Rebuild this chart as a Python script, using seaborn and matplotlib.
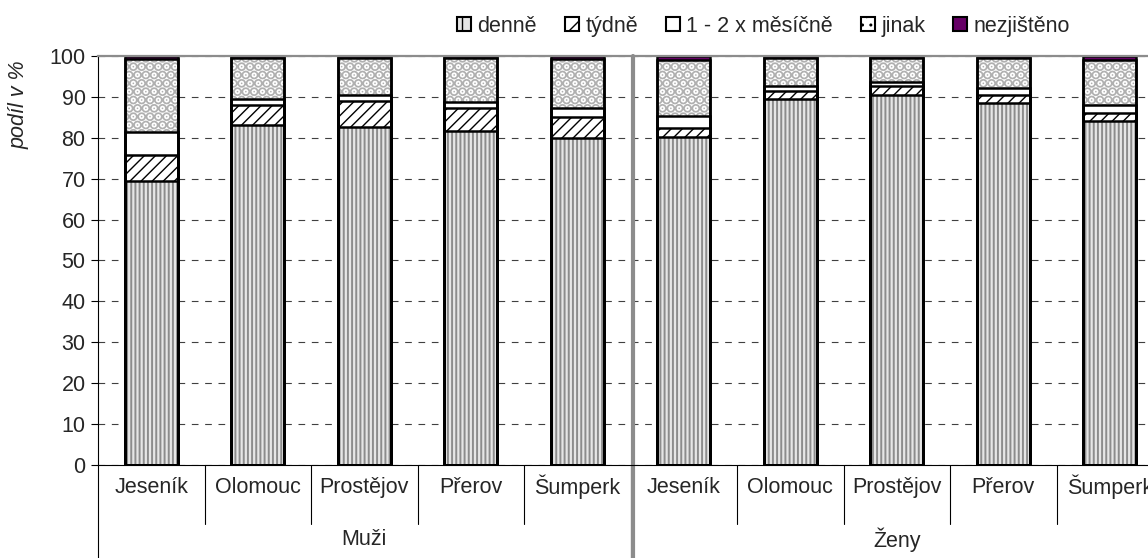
import matplotlib
matplotlib.use("Agg")
import matplotlib.pyplot as plt
import matplotlib.patches as mpatches
import pandas as pd
import seaborn as sns

# ---- data (percent of respondents) ----
DISTRICTS = ["Jeseník", "Olomouc", "Prostějov", "Přerov", "Šumperk"]
GROUPS = ["Muži", "Ženy"]

denne = [69.5, 83.2, 82.6, 81.6, 79.9, 80.1, 89.4, 90.5, 88.5, 84.1]
tydne = [6.3, 4.8, 6.5, 5.6, 5.3, 2.4, 2.0, 2.1, 2.0, 2.0]
mesicne = [5.7, 1.6, 1.4, 1.6, 2.0, 2.9, 1.2, 1.1, 1.6, 1.9]
jinak = [17.8, 9.9, 9.0, 10.7, 12.0, 13.6, 6.9, 5.8, 7.4, 11.0]
nezjisteno = [0.7, 0.5, 0.5, 0.5, 0.8, 1.0, 0.5, 0.5, 0.5, 1.0]

SERIES = ["denně", "týdně", "1 - 2 x měsíčně", "jinak", "nezjištěno"]
YTICKS = list(range(0, 101, 10))

FS = 15.5

# (face, hatch, hatch colour, hatch width) for each series
STYLES = {
    "denně": ("#e6e6e6", "||||", "#8c8c8c", 1.4),
    "týdně": ("white", "///", "black", 1.0),
    "1 - 2 x měsíčně": ("white", "", "white", 1.0),
    "jinak": ("white", "..", "#b0b0b0", 5.0),
    "nezjištěno": ("#660066", "", "#660066", 1.0),
}

sns.set_style("ticks")
plt.rcParams["font.family"] = ["Liberation Sans", "DejaVu Sans"]

keys = [f"{g}|{d}" for g in GROUPS for d in DISTRICTS]
df = pd.DataFrame({"key": keys})
values = [denne, tydne, mesicne, jinak, nezjisteno]
running = [0.0] * len(keys)
for name, vals in zip(SERIES, values):
    running = [r + v for r, v in zip(running, vals)]
    df["cum_" + name] = running

fig = plt.figure(figsize=(11.48, 5.58), dpi=100)
ax = fig.add_axes([0.0854, 0.1667, 0.9277, 0.733])

# fills: draw cumulative heights from the top layer down
for name in reversed(SERIES):
    face, hatch, hcol, hlw = STYLES[name]
    with plt.rc_context({"hatch.linewidth": hlw}):
        sns.barplot(data=df, x="key", y="cum_" + name, order=keys, color=face,
                    saturation=1, width=0.5, hatch=hatch, edgecolor=hcol,
                    linewidth=0, errorbar=None, ax=ax)
        fig.canvas.draw()

# black outlines of every segment
for name in reversed(SERIES):
    sns.barplot(data=df, x="key", y="cum_" + name, order=keys, color="black",
                fill=False, width=0.5, linewidth=1.8, errorbar=None, ax=ax)

ax.set_xlim(-0.5, 9.5)
ax.set_ylim(0, 100)
ax.set_yticks(YTICKS)
ax.tick_params(axis="y", direction="out", length=5, width=0.8, color="black",
               labelsize=FS, pad=4)
ax.tick_params(axis="x", length=0, labelbottom=False)
ax.set_xlabel("")
ax.set_ylabel("podíl v %", fontsize=FS, style="italic")
ax.yaxis.set_label_coords(-0.064, 0.88)

ax.set_axisbelow(True)
ax.yaxis.grid(True, linestyle=(0, (6, 6)), color="#404040", linewidth=0.8)

for side in ["left", "bottom"]:
    ax.spines[side].set_color("black")
    ax.spines[side].set_linewidth(0.8)
ax.spines["top"].set_visible(True)
ax.spines["top"].set_color("#8c8c8c")
ax.spines["top"].set_linewidth(1.6)
ax.spines["right"].set_visible(False)

# category labels under the axis
tr = ax.get_xaxis_transform()
for i, key in enumerate(keys):
    ax.text(i, -0.054, key.split("|")[1], transform=tr, ha="center",
            va="center", fontsize=FS)
for i in range(len(keys) + 1):
    low = -0.227 if i % 5 == 0 else -0.144
    ax.plot([i - 0.5, i - 0.5], [0, low], transform=tr, clip_on=False,
            color="black", linewidth=0.8)
for j, g in enumerate(GROUPS):
    ax.text(j * 5 + 2, -0.183, g, transform=tr, ha="center", va="center",
            fontsize=FS)

# grey divider between the two panels
ax.plot([4.52, 4.52], [1, -0.227], transform=tr, clip_on=False,
        color="#8c8c8c", linewidth=3)

handles = []
for name in SERIES:
    face, hatch, hcol, hlw = STYLES[name]
    handles.append(mpatches.Patch(facecolor=face, hatch=hatch[:1] * 2,
                                  edgecolor="black", linewidth=1.5))
fig.legend(handles, SERIES, loc="center", bbox_to_anchor=(0.665, 0.953),
           ncol=5, frameon=False, fontsize=FS, handlelength=0.65,
           handleheight=0.65, handletextpad=0.3, columnspacing=1.3,
           borderaxespad=0)

fig.savefig("out.png", dpi=100)
